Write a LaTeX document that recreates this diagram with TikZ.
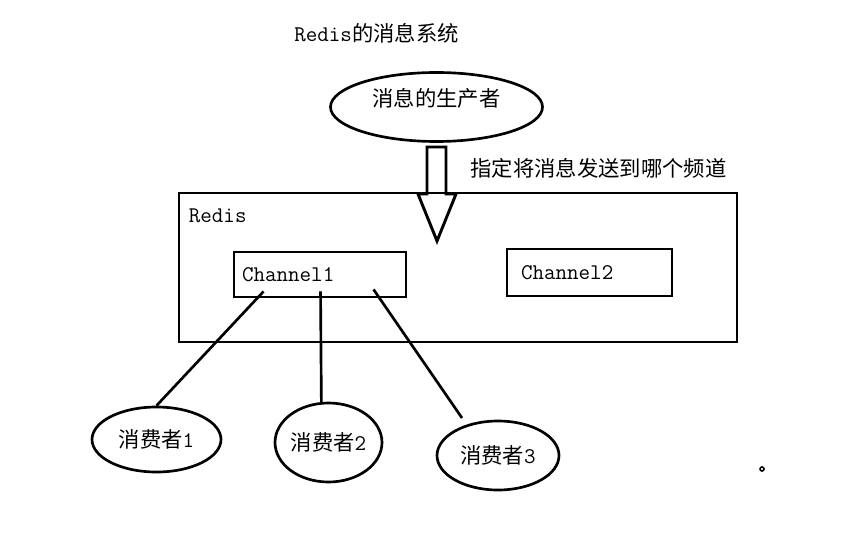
\documentclass[tikz,border=0pt]{standalone}
\usepackage{fontspec}
\setmainfont{Noto Sans CJK SC}
\usetikzlibrary{shapes.geometric,calc}
\newcommand{\lat}[1]{{\fontsize{16.8}{19}\selectfont\ttfamily #1}}

\begin{document}
\begin{tikzpicture}[x=0.75pt, y=-0.75pt, line width=2pt,
		font=\fontsize{16}{19}\selectfont,
		oval/.style={draw, ellipse, inner sep=0pt},
		chbox/.style={draw, line width=2.2pt, align=left, inner ysep=0pt}]
		\useasboundingbox (0,0) rectangle (862,538);
		% Title
		\node[anchor=west, inner sep=0pt] (title) at (293,33) {\lat{Redis}的消息系统};
		% Producer
		\node[oval, minimum width=159pt, minimum height=51.75pt, text height=0.88em, text depth=0.96em] (prod) at (436.5,107) {消息的生产者};
		\draw[line width=2.2pt] (427,147) -- (446,147) -- (446,194) -- (456,194) -- (437,241) -- (418,194) -- (427,194) -- cycle;
		\node (send) at (598.5,168) {指定将消息发送到哪个频道};
		% Redis server
		\node[draw, line width=2.2pt, minimum width=418.5pt, minimum height=111.75pt, inner sep=0pt] (redis) at (458,267.5) {};
		\node[anchor=west, inner sep=0pt] (redislbl) at ($(redis.north west)+(10,24)$) {\lat{Redis}};
		\node[chbox, minimum height=33.75pt, text width=117pt, inner xsep=6pt] (ch1) at (320,274.5) {\lat{Channel1}};
		\node[chbox, minimum height=35.25pt, text width=102.75pt, inner xsep=10.5pt] (ch2) at (589.5,272.5) {\lat{Channel2}};
		% Consumers
		\node[oval, minimum width=96.75pt, minimum height=48.75pt] (c1) at (156.5,439.5) {消费者\lat{1}};
		\node[oval, minimum width=80.25pt, minimum height=59.25pt] (c2) at (328.5,442.5) {消费者\lat{2}};
		\node[oval, minimum width=91.5pt, minimum height=51.75pt] (c3) at (498,455.5) {消费者\lat{3}};
		\coordinate (t1) at ($(ch1.south west)+(31,-7)$);
		\coordinate (t2) at ($(ch1.south west)+(88,-7)$);
		\coordinate (t3) at ($(ch1.south west)+(141,-9)$);
		\coordinate (e3) at (462,418);
		\draw (t1) -- (c1.north);
		\draw (t2) -- (c2.100);
		\draw (t3) -- (e3);
		\draw[line width=1.2pt] (762,469) circle (1.5pt);
	\end{tikzpicture}
\end{document}
